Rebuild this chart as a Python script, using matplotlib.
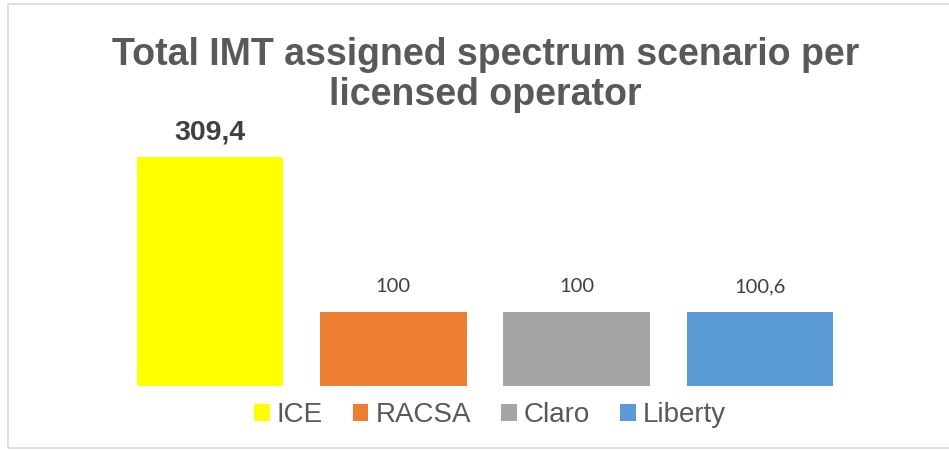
import matplotlib
matplotlib.use("Agg")
import matplotlib.pyplot as plt
from matplotlib.patches import Patch, Rectangle

categories = ["ICE", "RACSA", "Claro", "Liberty"]
values = [309.4, 100, 100, 100.6]
value_labels = ["309,4", "100", "100", "100,6"]
colors = ["#FFFF00", "#ED7D31", "#A5A5A5", "#5B9BD5"]
title = "Total IMT assigned spectrum scenario per\nlicensed operator"

W, H = 949, 450
fig = plt.figure(figsize=(W / 100, H / 100), dpi=100)
fig.patch.set_facecolor("white")

# outer chart border
fig.add_artist(Rectangle((8 / W, 1 - 448 / H), (W + 10) / W, (448 - 4) / H,
                         transform=fig.transFigure, fill=False,
                         edgecolor="#D9D9D9", linewidth=1.2))

ax_left = 118.3 / W
ax_width = (851.7 - 118.3) / W
ax_bottom = 1 - 386 / H
ymax = 350
ax_height = (ymax * 0.74) / H
ax = fig.add_axes([ax_left, ax_bottom, ax_width, ax_height])

x = list(range(len(categories)))
bars = ax.bar(x, values, width=0.8, color=colors, edgecolor="none")
ax.set_xlim(-0.5, len(categories) - 0.5)
ax.set_ylim(0, ymax)
ax.axis("off")

for i, (v, lab) in enumerate(zip(values, value_labels)):
    if i == 0:
        ax.annotate(lab, (i, v), xytext=(0, 8), textcoords="offset points",
                    ha="center", va="bottom", fontsize=20.5, fontweight="bold",
                    color="#404040", family="Liberation Sans")
    else:
        ax.annotate(lab, (i, v), xytext=(0, 12), textcoords="offset points",
                    ha="center", va="bottom", fontsize=14.5,
                    color="#404040", family="Lato")

fig.text(485.5 / W, 1 - 75 / H, title, ha="center", va="center", fontsize=27,
         fontweight="bold", color="#595959", family="Liberation Sans",
         linespacing=1.12)

handles = [Patch(facecolor=c, edgecolor="none") for c in colors]
leg = fig.legend(handles, categories, loc="center", ncol=4,
                 bbox_to_anchor=(490 / W, 1 - 415 / H), frameon=False,
                 prop={"family": "Liberation Sans", "size": 20},
                 handlelength=0.55, handleheight=0.55, handletextpad=0.25,
                 columnspacing=1.1, borderpad=0)
for t in leg.get_texts():
    t.set_color("#595959")

fig.savefig("out.png", dpi=100, facecolor="white")
